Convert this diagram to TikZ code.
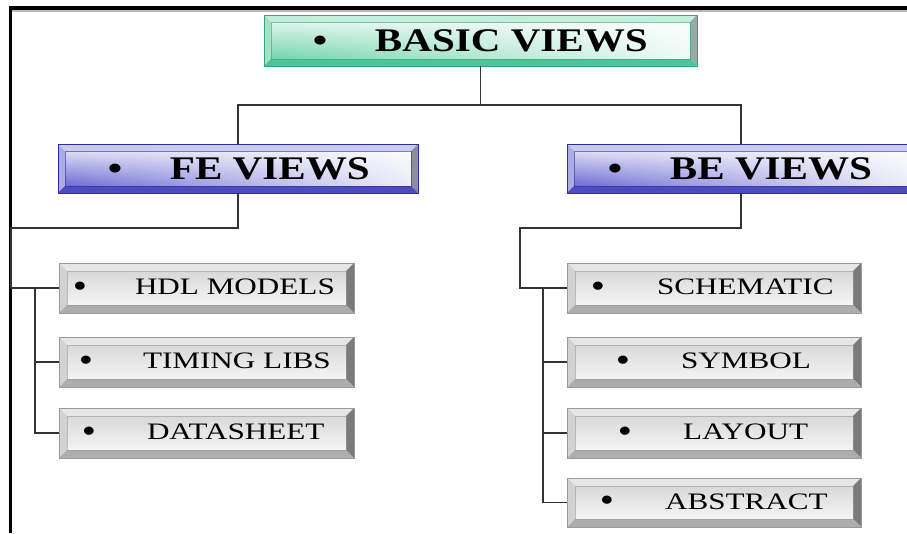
\documentclass[tikz,border=0pt]{standalone}
\usepackage{fontspec}
\setmainfont{Liberation Serif}
\newfontfamily\itemfont[FakeStretch=1.32]{Liberation Serif}
\newfontfamily\headfont[FakeStretch=1.245]{Liberation Serif}
\usetikzlibrary{fadings}

% fading that lets a white wash grow towards the right end of a face
\tikzfading[name=whiteright, left color=transparent!100, middle color=transparent!35, right color=transparent!5]

% bevel palettes: g = green, b = blue, s = silver
\definecolor{gtop}{HTML}{C4EFDF}\definecolor{gleft}{HTML}{A2E2C8}
\definecolor{gright}{HTML}{8EAFA3}\definecolor{gbot}{HTML}{4EC49A}
\definecolor{gedge}{HTML}{2FA87E}\definecolor{gftop}{HTML}{F2FBF7}
\definecolor{gfbot}{HTML}{5ACDA3}
\definecolor{btop}{HTML}{CBCBF1}\definecolor{bleft}{HTML}{ABABE5}
\definecolor{bright}{HTML}{8C8CA8}\definecolor{bbot}{HTML}{4C4CBE}
\definecolor{bedge}{HTML}{2E2E9E}\definecolor{bftop}{HTML}{F2F2FC}
\definecolor{bfbot}{HTML}{5252CC}
\definecolor{stop}{HTML}{E6E6E6}\definecolor{sleft}{HTML}{D2D2D2}
\definecolor{sright}{HTML}{7A7A7A}\definecolor{sbot}{HTML}{ADADAD}
\definecolor{sedge}{HTML}{9A9A9A}\definecolor{sftop}{HTML}{D2D2D2}
\definecolor{sfbot}{HTML}{FBFBFB}
\definecolor{linkcol}{HTML}{333333}

% face + four bevel strips of a raised button
% #1 palette prefix, #2 strength of the white wash, #3 bevel width
\newcommand\bevelface[3]{%
  \coordinate (pa) at (path picture bounding box.north west);
  \coordinate (pb) at (path picture bounding box.north east);
  \coordinate (pc) at (path picture bounding box.south east);
  \coordinate (pd) at (path picture bounding box.south west);
  \shade[top color=#1ftop, bottom color=#1fbot] (pa) rectangle (pc);
  \fill[white, opacity=#2, path fading=whiteright] (pa) rectangle (pc);
  \fill[#1top] (pa) -- (pb) -- ([shift={(-#3,-#3)}]pb) -- ([shift={(#3,-#3)}]pa) -- cycle;
  \fill[#1left] (pa) -- (pd) -- ([shift={(#3,#3)}]pd) -- ([shift={(#3,-#3)}]pa) -- cycle;
  \fill[#1right] (pb) -- (pc) -- ([shift={(-#3,#3)}]pc) -- ([shift={(-#3,-#3)}]pb) -- cycle;
  \fill[#1bot] (pd) -- (pc) -- ([shift={(-#3,#3)}]pc) -- ([shift={(#3,#3)}]pd) -- cycle;
  \draw[#1edge, line width=0.5pt, opacity=0.6]
    ([shift={(#3,-#3)}]pa) rectangle ([shift={(-#3,#3)}]pc);
}

% button text: bullet centred at #2, label starting at #3, box width #1
\newcommand\entry[4]{\makebox[#1pt][l]{\hspace*{#2pt}\makebox[0pt]{\textbullet}\hspace*{\dimexpr#3pt-#2pt\relax}#4}}
\newcommand\ientry[4]{\makebox[#1pt][l]{\hspace*{#2pt}\makebox[0pt]{\raisebox{-2.5pt}{\scalebox{1.3}[1.45]{\textbullet}}}\hspace*{\dimexpr#3pt-#2pt\relax}#4}}

\tikzset{
  button/.style={rectangle, inner sep=0pt, outer sep=0pt, anchor=north west, text=black, line width=0.8pt},
  greenbox/.style={button, draw=gedge, path picture={\bevelface{g}{0.95}{7pt}},
    font=\headfont\bfseries\fontsize{33}{36}\selectfont},
  bluebox/.style={button, draw=bedge, path picture={\bevelface{b}{0.95}{7pt}},
    font=\headfont\bfseries\fontsize{33}{36}\selectfont},
  greybox/.style={button, draw=sedge, path picture={\bevelface{s}{0}{8pt}},
    font=\itemfont\fontsize{23.6}{26}\selectfont},
  link/.style={draw=linkcol, line width=1.7pt},
  frame/.style={draw=black, line width=3.2pt},
}

\begin{document}
\begin{tikzpicture}[x=1pt, y=-1pt]
\useasboundingbox (0,0) rectangle (907,533);
\clip (0,0) rectangle (907,533);
\fill[white] (0,0) rectangle (907,533);

% outer frame
\draw[gray!55, line width=1.2pt] (9,11) -- (907,11);
\draw[frame] (9,8) -- (907,8);
\draw[frame] (10.5,6.4) -- (10.5,533);

% root and the two view groups
\node[greenbox, minimum width=433, minimum height=51] (basic) at (264,15)
  {\entry{433}{56}{111}{BASIC VIEWS}};
\node[bluebox, minimum width=360, minimum height=49] (fe) at (58,144)
  {\entry{360}{57}{112}{FE VIEWS}};
\node[bluebox, minimum width=348, minimum height=49] (be) at (567,144)
  {\entry{348}{48}{103}{BE VIEWS}};

% front-end views
\node[greybox, minimum width=295, minimum height=50] (hdl) at (59,263)
  {\ientry{295}{21}{76}{HDL MODELS}};
\node[greybox, minimum width=295, minimum height=50] (tim) at (59,337)
  {\ientry{295}{27}{84}{TIMING LIBS}};
\node[greybox, minimum width=295, minimum height=50] (data) at (59,408)
  {\ientry{295}{30}{88}{DATASHEET}};

% back-end views
\node[greybox, minimum width=294, minimum height=50] (sch) at (567,263)
  {\ientry{294}{31}{90}{SCHEMATIC}};
\node[greybox, minimum width=294, minimum height=50] (sym) at (567,337)
  {\ientry{294}{56}{114}{SYMBOL}};
\node[greybox, minimum width=294, minimum height=50] (lay) at (567,408)
  {\ientry{294}{58}{116}{LAYOUT}};
\node[greybox, minimum width=294, minimum height=49] (abs) at (567,478)
  {\ientry{294}{40}{98}{ABSTRACT}};

% root to groups
\coordinate (topbar) at (0,105);
\draw[link] (basic.south) -- (basic.south |- topbar) -| (fe.north);
\draw[link] (basic.south |- topbar) -| (be.north);

% front-end tree
\coordinate (fejoin) at (11,228);
\coordinate (fetrunk) at (35,0);
\draw[link] (fe.south) |- (fejoin) |- (hdl.west);
\draw[link] (fetrunk |- hdl.west) |- (data.west);
\draw[link] (fetrunk |- tim.west) -- (tim.west);

% back-end tree
\coordinate (bejoin) at (520,228);
\coordinate (betrunk) at (543,0);
\draw[link] (be.south) |- (bejoin) |- (sch.west);
\draw[link] (betrunk |- sch.west) |- (abs.west);
\draw[link] (betrunk |- sym.west) -- (sym.west);
\draw[link] (betrunk |- lay.west) -- (lay.west);
\end{tikzpicture}
\end{document}
